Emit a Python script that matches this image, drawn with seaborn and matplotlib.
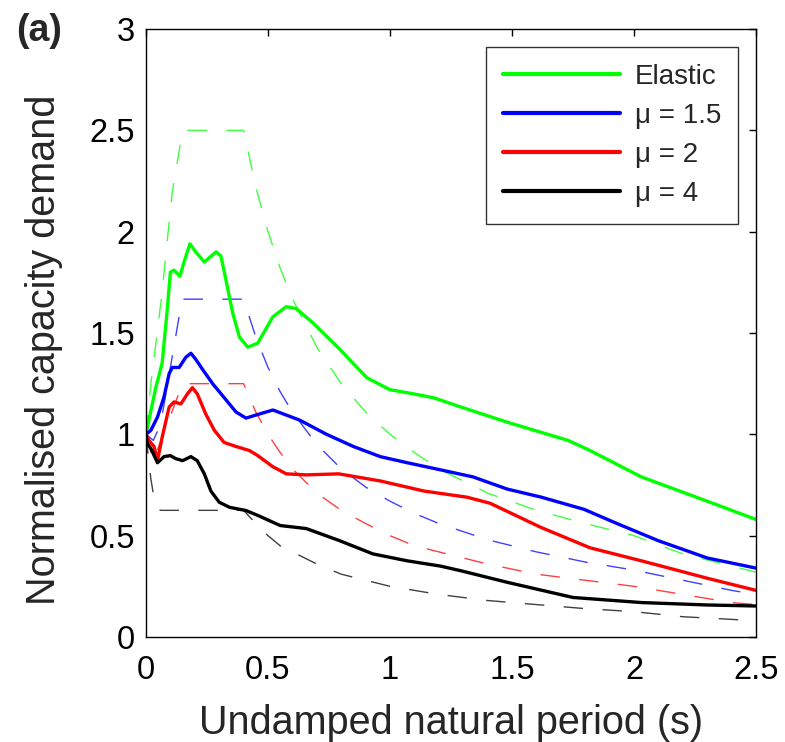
import matplotlib
matplotlib.use("Agg")
import matplotlib.pyplot as plt
import seaborn as sns
import pandas as pd

sns.set_theme(style="white")
plt.rcParams['font.family'] = ['Liberation Sans', 'DejaVu Sans']
plt.rcParams['lines.scale_dashes'] = False

# ---- solid lines (computed demand) ----
el_T = [0, 0.012, 0.04, 0.066, 0.086, 0.10, 0.115, 0.139, 0.156, 0.18, 0.204, 0.239, 0.287, 0.307,
        0.328, 0.355, 0.383, 0.417, 0.458, 0.52, 0.575, 0.616, 0.684, 0.794, 0.904, 1.0, 1.095,
        1.18, 1.29, 1.48, 1.73, 1.82, 2.03, 2.30, 2.5]
el_V = [1.0, 1.07, 1.23, 1.35, 1.6, 1.80, 1.81, 1.78, 1.85, 1.94, 1.90, 1.85, 1.90, 1.88,
        1.76, 1.60, 1.48, 1.43, 1.45, 1.58, 1.63, 1.62, 1.55, 1.42, 1.28, 1.22, 1.20,
        1.18, 1.135, 1.06, 0.97, 0.92, 0.79, 0.67, 0.58]

m15_T = [0, 0.02, 0.047, 0.074, 0.095, 0.108, 0.136, 0.163, 0.184, 0.204, 0.232, 0.273, 0.328,
         0.369, 0.41, 0.45, 0.52, 0.63, 0.74, 0.85, 0.96, 1.07, 1.206, 1.34, 1.48, 1.62, 1.795,
         1.93, 2.10, 2.30, 2.5]
m15_V = [1.0, 1.02, 1.085, 1.185, 1.30, 1.33, 1.33, 1.38, 1.40, 1.37, 1.32, 1.25, 1.17,
         1.11, 1.08, 1.095, 1.12, 1.07, 1.0, 0.94, 0.89, 0.86, 0.825, 0.79, 0.73, 0.69, 0.63,
         0.56, 0.475, 0.39, 0.34]

m2_T = [0, 0.012, 0.033, 0.047, 0.067, 0.095, 0.115, 0.143, 0.17, 0.19, 0.21, 0.245, 0.28, 0.32,
        0.369, 0.424, 0.458, 0.52, 0.575, 0.657, 0.79, 0.96, 1.14, 1.315, 1.41, 1.62, 1.82, 2.03,
        2.30, 2.5]
m2_V = [1.0, 0.97, 0.94, 0.87, 0.99, 1.135, 1.16, 1.15, 1.20, 1.23, 1.20, 1.10, 1.02, 0.96,
        0.94, 0.92, 0.895, 0.84, 0.805, 0.80, 0.805, 0.77, 0.72, 0.69, 0.66, 0.54, 0.44, 0.376,
        0.29, 0.23]

m4_T = [0, 0.005, 0.02, 0.047, 0.074, 0.10, 0.122, 0.15, 0.184, 0.21, 0.239, 0.266, 0.30, 0.342,
        0.41, 0.458, 0.55, 0.657, 0.794, 0.93, 1.07, 1.206, 1.29, 1.48, 1.75, 2.03, 2.30, 2.5]
m4_V = [1.0, 0.955, 0.93, 0.86, 0.89, 0.895, 0.88, 0.87, 0.89, 0.87, 0.805, 0.72, 0.665, 0.64,
        0.624, 0.60, 0.55, 0.535, 0.475, 0.41, 0.376, 0.35, 0.327, 0.27, 0.195, 0.17, 0.158, 0.153]

# ---- dashed lines (design spectra) ----
tail_T = [0.45, 0.5, 0.55, 0.6, 0.7, 0.8, 0.9, 1.0, 1.1, 1.2, 1.4, 1.6, 1.8, 2.0, 2.2, 2.4, 2.5]
el_dT = [0, 0.02, 0.064, 0.107, 0.15, 0.4] + tail_T
el_dV = [1.0, 1.25, 1.68, 2.19, 2.5, 2.5,
         2.22, 2.0, 1.82, 1.67, 1.43, 1.25, 1.11, 1.0, 0.91, 0.83, 0.71, 0.625, 0.56, 0.5, 0.41, 0.35, 0.32]
m15_dT = [0, 0.03, 0.06, 0.148, 0.4] + tail_T
m15_dV = [1.0, 0.97, 1.05, 1.667, 1.667,
          1.48, 1.33, 1.21, 1.11, 0.95, 0.83, 0.74, 0.67, 0.61, 0.56, 0.48, 0.42, 0.37, 0.33, 0.28, 0.23, 0.21]
m2_dT = [0, 0.03, 0.15, 0.4] + tail_T
m2_dV = [1.0, 0.87, 1.25, 1.25,
         1.11, 1.0, 0.91, 0.83, 0.71, 0.625, 0.56, 0.5, 0.45, 0.42, 0.36, 0.31, 0.28, 0.25, 0.21, 0.17, 0.16]
m4_dT = [0, 0.01, 0.02, 0.035, 0.05, 0.06, 0.4] + tail_T
m4_dV = [1.0, 0.88, 0.78, 0.67, 0.63, 0.625, 0.625,
         0.56, 0.5, 0.45, 0.42, 0.36, 0.31, 0.28, 0.25, 0.23, 0.21, 0.18, 0.16, 0.14, 0.125, 0.10, 0.087, 0.08]

labels = ["Elastic", "μ = 1.5", "μ = 2", "μ = 4"]
colors = ["#00ff00", "#0000ff", "#ff0000", "#000000"]
solid = [(el_T, el_V), (m15_T, m15_V), (m2_T, m2_V), (m4_T, m4_V)]
dashed = [(el_dT, el_dV), (m15_dT, m15_dV), (m2_dT, m2_dV), (m4_dT, m4_dV)]

fig = plt.figure(figsize=(7.85, 7.42), dpi=100)
ax = fig.add_axes([146 / 785, 1 - 637 / 742, (756 - 146) / 785, (637 - 29) / 742])

for (t, v), c in zip(dashed, colors):
    sns.lineplot(x=t, y=v, ax=ax, color=c, lw=1.0, sort=False, estimator=None,
                 dashes=False, legend=False, alpha=0.75)
    ax.lines[-1].set_dashes([14, 14])

for (t, v), c, lab in zip(solid, colors, labels):
    sns.lineplot(x=t, y=v, ax=ax, color=c, lw=2.4, sort=False, estimator=None, label=lab)

ax.set_xlim(0, 2.5)
ax.set_ylim(0, 3)
ax.set_xticks([0, 0.5, 1, 1.5, 2, 2.5])
ax.set_xticklabels(["0", "0.5", "1", "1.5", "2", "2.5"])
ax.set_yticks([0, 0.5, 1, 1.5, 2, 2.5, 3])
ax.set_yticklabels(["0", "0.5", "1", "1.5", "2", "2.5", "3"])
ax.tick_params(direction="in", length=5, width=1, top=True, right=True,
               labelsize=23.5, colors="black")
ax.tick_params(axis="x", pad=13)
ax.tick_params(axis="y", pad=8)
for s in ax.spines.values():
    s.set_color("black")
    s.set_linewidth(1.0)
    s.set_visible(True)

ax.set_xlabel("Undamped natural period (s)", fontsize=28.5)
ax.set_ylabel("Normalised capacity demand", fontsize=28.5)
ax.xaxis.set_label_coords(0.5, (637 - 704) / 608)
ax.yaxis.set_label_coords((63 - 146) / 610, (637 - 350) / 608)

leg = ax.legend(loc="upper right", fontsize=20, frameon=True, fancybox=False,
                handlelength=4.2, labelspacing=0.47, borderaxespad=0.65, borderpad=0.6,
                handletextpad=0.55)
leg.get_frame().set_edgecolor("black")
leg.get_frame().set_linewidth(1.0)
for h in leg.get_lines():
    h.set_linewidth(3)

fig.text(16 / 785, 1 - 31 / 742, "(a)", fontsize=27, fontweight="bold", va="center", ha="left")

fig.savefig("out.png", dpi=100)
